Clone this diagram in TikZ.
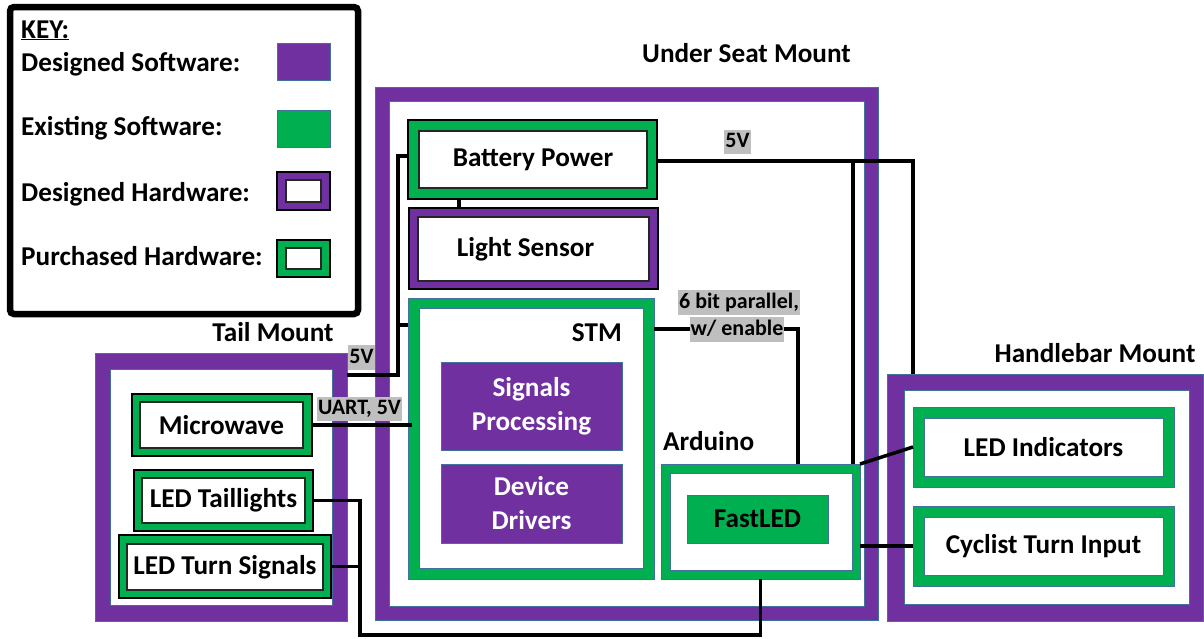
\documentclass[tikz,border=0pt]{standalone}
\usepackage{fontspec}
\setmainfont{Carlito}
\definecolor{pur}{HTML}{7030A0}
\definecolor{grn}{HTML}{00B050}
\definecolor{edg}{HTML}{41719C}
\definecolor{lbl}{HTML}{BFBFBF}
\newcommand\mkbox[7]{\node[box,#6,minimum width={(#4-#2)*1pt},minimum height={(#5-#3)*1pt}] (#1) at (#2,#3) {#7};}
\begin{document}
\begin{tikzpicture}[x=1pt,y=-1pt,
  box/.style={anchor=north west,inner sep=0pt,outer sep=0pt},
  txt/.style={inner sep=0pt,font=\fontsize{27.2}{34}\selectfont\bfseries},
  sw/.style={draw=edg,line width=1pt},
  hw/.style={draw=black,line width=1.6pt},
  hwin/.style={draw=black!85,fill=white,line width=1.2pt,txt},
  mount/.style={draw=edg,fill=pur,line width=1pt},
  mountin/.style={draw=edg,fill=white,line width=0.8pt,txt},
  wire/.style={line width=3.5pt,line join=miter},
  lab/.style={fill=lbl,inner xsep=1pt,inner ysep=1pt,text height=17pt,text depth=5.5pt,font=\fontsize{22}{24}\selectfont\bfseries}]
\useasboundingbox (0,0) rectangle (1204,638);
% key
\node[box,draw=black,line width=6.5pt,rounded corners=4pt,minimum width=348pt,minimum height=307pt] (key) at (10,7) {};
\node[txt,anchor=base west] (k0) at (21,38) {\underline{KEY:}};
\node[txt,anchor=base west] (k1) at (21,71) {Designed Software:};
\node[txt,anchor=base west] (k2) at (21,135) {Existing Software:};
\node[txt,anchor=base west] (k3) at (21,201) {Designed Hardware:};
\node[txt,anchor=base west] (k4) at (21,265) {Purchased Hardware:};
\mkbox{ds}{277}{43}{330}{80}{sw,fill=pur}{}
\mkbox{es}{277}{110}{330}{147}{sw,fill=grn}{}
\mkbox{dh}{277}{172}{330}{210}{hw,fill=pur}{}
\mkbox{dhin}{286}{180}{321}{202}{hwin}{}
\mkbox{ph}{277}{240}{330}{277}{hw,fill=grn}{}
\mkbox{phin}{286}{248}{321}{269}{hwin}{}
% mounts
\mkbox{usm}{375}{87}{878}{620}{mount}{}
\mkbox{usmin}{389}{101}{864}{606}{mountin}{}
\mkbox{tm}{95}{353}{347}{621}{mount}{}
\mkbox{tmin}{110}{369}{332}{605}{mountin}{}
\mkbox{hm}{887}{374}{1203.5}{621}{mount}{}
\mkbox{hmin}{904}{390}{1189}{604}{mountin}{}
% under seat parts
\mkbox{bat}{408}{120}{657}{199}{hw,fill=grn}{}
\mkbox{batin}{419}{131}{647}{188}{hwin}{Battery Power}
\mkbox{ls}{409}{208}{658}{289}{hw,fill=pur}{}
\mkbox{lsin}{418}{217}{649}{281}{hwin}{Light Sensor\hspace*{16pt}}
\mkbox{stm}{408}{298}{654}{579}{sw,fill=grn}{}
\mkbox{stmin}{419}{308}{643}{568}{mountin}{}
\mkbox{sp}{441}{362}{622}{450}{sw,fill=pur,txt,text=white,align=center}{Signals\\Processing}
\mkbox{dd}{441}{464}{622}{543}{sw,fill=pur,txt,text=white,align=center}{Device\\Drivers}
\mkbox{ard}{661}{464}{860}{579}{sw,fill=grn}{}
\mkbox{ardin}{670}{473}{852}{570}{mountin}{}
\mkbox{fl}{687}{495}{828}{543}{sw,fill=grn,txt}{FastLED}
% tail parts
\mkbox{mw}{132}{394}{312}{456}{hw,fill=grn}{}
\mkbox{mwin}{140}{402}{303}{448}{hwin}{Microwave}
\mkbox{tl}{134}{470}{313}{531}{hw,fill=grn}{}
\mkbox{tlin}{142}{478}{305}{523}{hwin}{LED Taillights}
\mkbox{ts}{119}{535}{331}{598}{hw,fill=grn}{}
\mkbox{tsin}{127}{544}{323}{590}{hwin}{LED Turn Signals}
% handlebar parts
\mkbox{li}{913}{407}{1174}{487}{sw,fill=grn}{}
\mkbox{liin}{924}{418}{1163}{476}{mountin}{LED Indicators}
\mkbox{ct}{913}{506}{1174}{586}{sw,fill=grn}{}
\mkbox{ctin}{924}{517}{1163}{575}{mountin}{Cyclist Turn Input}
% titles
\node[txt,anchor=base] (ust) at (746.5,62) {Under Seat Mount};
\node[txt,anchor=base] (tmt) at (273,341) {Tail Mount};
\node[txt,anchor=base] (hmt) at (1095,362) {Handlebar Mount};
\node[txt,anchor=base east] (stmt) at (622,341) {STM};
\node[txt,anchor=base west] (ardt) at (663,450) {Arduino};
% wires
\coordinate (j5) at (398,375);
\coordinate (jst) at (398,325);
\coordinate (jb) at (398,156);
\coordinate (p6) at (798,329);
\coordinate (r5) at (913,0);
\coordinate (a5) at (853,0);
\coordinate (bl) at (360,635);
\coordinate (bs) at (459,0);
\draw[wire] (bs |- bat.south) -- (bs |- ls.north);
\draw[wire] (j5 -| tm.east) -- (j5) -- (jb) -- (jb -| bat.west);
\draw[wire] (jst) -- (jst -| stm.west);
\draw[wire] (mw.east) -- ([xshift=4pt]mw.east -| stm.west);
\draw[wire] (p6 -| stm.east) -- (p6) -- (p6 |- ard.north);
\draw[wire] ([yshift=-1.5pt]bat.east) -| (r5 |- hm.north);
\draw[wire] ([yshift=-1.5pt]a5 |- bat.east) -- (a5 |- ard.north);
\draw[wire] (ard.north east) -- (li.west);
\draw[wire] (ard.east |- ct.west) -- (ct.west);
\draw[wire] (tl.east) -| (bl) -| (ard.south);
\draw[wire] (ts.east) -- (ts.east -| bl);
% labels
\node[lab] (l5a) at (737.5,142) {5V};
\node[lab] (l5b) at (361.5,357.5) {5V};
\node[lab] (luart) at (359.5,409) {UART, 5V};
\node[lab] (l6a) at (739,302.5) {6 bit parallel,};
\node[lab] (l6b) at (737,329.5) {w/ enable};
\end{tikzpicture}
\end{document}
